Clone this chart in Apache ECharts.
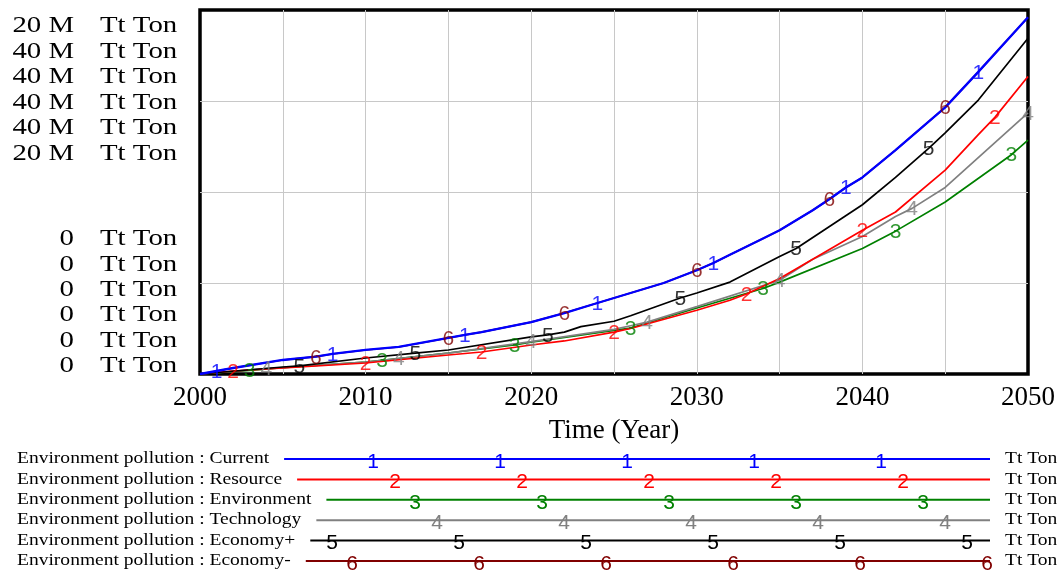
<!DOCTYPE html>
<html><head><meta charset="utf-8">
<script src="https://cdn.jsdelivr.net/npm/echarts@6/dist/echarts.min.js"></script>
<style>html,body{margin:0;padding:0;background:#fff}#c{width:1064px;height:571px}</style>
</head><body><div id="c"></div><script>
// ---------------- DATA ----------------
const seriesNames = ['Environment pollution : Current','Environment pollution : Resource','Environment pollution : Environment','Environment pollution : Technology','Environment pollution : Economy+','Environment pollution : Economy-'];
const markerDigits = ['1','2','3','4','5','6'];
const unitLabel = 'Tt Ton';
const yTopLabels = ['20 M','40 M','40 M','40 M','40 M','20 M'];
const yBottomLabels = ['0','0','0','0','0','0'];
const xTickLabels = [2000, 2010, 2020, 2030, 2040, 2050];

const currentYears = [2000,2001,2002,2005,2007,2008,2010,2012,2015,2016,2017,2020,2022,2024,2025,2026,2028,2030,2031,2032,2034,2035,2037,2038,2039,2040,2042,2045,2047,2050];
const currentVals  = [0,0.33,0.66,1.54,1.9,2.2,2.64,2.97,3.96,4.29,4.6,5.7,6.7,7.8,8.35,8.9,10.0,11.4,12.2,13.1,14.9,15.8,18.0,19.2,20.5,21.6,24.6,29.3,33.2,39.2];
const currentMarks = [2001,2008,2016,2024,2031,2039,2047];

const resourceYears = [2000,2002,2005,2010,2015,2017,2020,2022,2025,2026,2030,2032,2033,2035,2037,2040,2042,2045,2047,2048,2050];
const resourceVals  = [0,0.33,0.66,1.21,2.09,2.42,3.19,3.63,4.6,5.0,7.0,8.1,8.8,10.5,12.6,15.8,17.8,22.4,26.3,28.2,32.7];
const resourceMarks = [2002,2010,2017,2025,2033,2040,2048];

const environmentYears = [2000,2003,2005,2010,2011,2015,2019,2020,2025,2026,2030,2034,2035,2040,2042,2045,2049,2050];
const environmentVals  = [0,0.4,0.7,1.32,1.5,2.31,3.2,3.5,4.8,5.05,7.25,9.4,10.1,13.8,15.7,18.9,24.1,25.7];
const environmentMarks = [2003,2011,2019,2026,2034,2042,2049];

const technologyYears = [2000,2004,2005,2010,2012,2015,2020,2025,2026,2027,2030,2035,2037,2040,2042,2043,2045,2050];
const technologyVals  = [0,0.6,0.7,1.3,1.7,2.3,3.55,4.9,5.3,5.7,7.4,10.3,12.6,15.1,17.3,18.2,20.5,28.7];
const technologyMarks = [2004,2012,2020,2027,2035,2043,2050];

const economyPlusYears = [2000,2005,2006,2010,2013,2015,2020,2021,2022,2023,2025,2026,2029,2030,2032,2035,2036,2040,2042,2044,2045,2047,2050];
const economyPlusVals  = [0,0.77,0.9,1.76,2.3,2.64,4.07,4.3,4.6,5.2,5.8,6.4,8.35,8.9,10.1,12.9,13.8,18.6,21.6,24.8,26.5,30.1,36.9];
const economyPlusMarks = [2006,2013,2021,2029,2036,2044];

const economyMinusYears = [2000,2001,2002,2005,2007,2008,2010,2012,2015,2016,2017,2020,2022,2024,2025,2026,2028,2030,2031,2032,2034,2035,2037,2038,2039,2040,2042,2045,2047,2050];
const economyMinusVals  = [0,0.33,0.66,1.54,1.9,2.2,2.64,2.97,3.96,4.29,4.6,5.7,6.7,7.8,8.35,8.9,10.0,11.4,12.2,13.1,14.9,15.8,18.0,19.2,20.5,21.6,24.6,29.3,33.2,39.2];
const economyMinusMarks = [2007,2015,2022,2030,2038,2045];

// ---------------- STYLE / LAYOUT ----------------
const colors = ['#0000ff','#ff0000','#008000','#808080','#000000','#800000'];
const lineWidths = [2.3,1.7,1.7,1.7,1.7,1.7];
const zOrder = [6,4,3,3,5,2];
const allYears = [currentYears,resourceYears,environmentYears,technologyYears,economyPlusYears,economyMinusYears];
const allVals = [currentVals,resourceVals,environmentVals,technologyVals,economyPlusVals,economyMinusVals];
const allMarks = [currentMarks,resourceMarks,environmentMarks,technologyMarks,economyPlusMarks,economyMinusMarks];

const SERIF = '"Liberation Serif","Times New Roman",serif';
const SANS = '"Liberation Sans",Arial,sans-serif';

const series = [];
for (let i = 0; i < 6; i++) {
  const pts = allYears[i].map((y, k) => [y, allVals[i][k]]);
  series.push({
    name: seriesNames[i], type: 'line', data: pts, symbol: 'none', smooth: false,
    lineStyle: {color: colors[i], width: lineWidths[i]}, itemStyle: {color: colors[i]},
    z: zOrder[i], silent: true, animation: false
  });
  series.push({
    type: 'scatter', data: pts.filter(p => allMarks[i].includes(p[0])),
    symbol: 'circle', symbolSize: 1, itemStyle: {color: 'rgba(0,0,0,0)'},
    label: {show: true, position: 'inside', offset: [0, 1], formatter: markerDigits[i], color: colors[i],
            fontFamily: SANS, fontSize: 21},
    z: zOrder[i] + 10, silent: true, animation: false
  });
}

// graphic: left scale labels + bottom legend
const graphic = [];
const SX = 1.2;
for (let i = 0; i < 6; i++) {
  const yt = 26 + i * 25.5, yb = 239 + i * 25.4;
  graphic.push({type:'text', x:74, y:yt, scaleX:SX, style:{text:yTopLabels[i], font:'24px '+SERIF, fill:'#000', align:'right', verticalAlign:'middle'}});
  graphic.push({type:'text', x:100, y:yt, scaleX:SX, style:{text:unitLabel, font:'24px '+SERIF, fill:'#000', align:'left', verticalAlign:'middle'}});
  graphic.push({type:'text', x:74, y:yb, scaleX:SX, style:{text:yBottomLabels[i], font:'24px '+SERIF, fill:'#000', align:'right', verticalAlign:'middle'}});
  graphic.push({type:'text', x:100, y:yb, scaleX:SX, style:{text:unitLabel, font:'24px '+SERIF, fill:'#000', align:'left', verticalAlign:'middle'}});
}
const ctx = document.createElement('canvas').getContext('2d');
const LEG_FONT = '16px ' + SERIF;
const LSX = 1.22;
ctx.font = LEG_FONT;
const legStartDigit = [373,395,415,437,332,352];
const legCount = [5,5,5,5,6,6];
for (let i = 0; i < 6; i++) {
  const y = 459 + i * 20.4;
  const w = ctx.measureText(seriesNames[i]).width * LSX;
  graphic.push({type:'text', x:17, y:y, scaleX:LSX, style:{text:seriesNames[i], font:LEG_FONT, fill:'#000', align:'left', verticalAlign:'middle'}});
  graphic.push({type:'line', shape:{x1:17 + w + 15, y1:y, x2:990, y2:y}, style:{stroke:colors[i], lineWidth:2}});
  for (let k = 0; k < legCount[i]; k++) {
    graphic.push({type:'text', x:legStartDigit[i] + 127 * k, y:y + 3, style:{text:markerDigits[i], font:'21px ' + SANS, fill:colors[i], align:'center', verticalAlign:'middle'}});
  }
  graphic.push({type:'text', x:1005, y:y, scaleX:LSX, style:{text:unitLabel, font:LEG_FONT, fill:'#000', align:'left', verticalAlign:'middle'}});
}

const chart = echarts.init(document.getElementById('c'), null, {renderer:'canvas'});
chart.setOption({
  animation: false,
  backgroundColor: '#fff',
  grid: {left:200, right:36, top:10, bottom:197, show:true, borderColor:'#000', borderWidth:3.5, backgroundColor:'transparent'},
  xAxis: {
    type:'value', min:2000, max:2050, interval:5,
    name:'Time (Year)', nameLocation:'middle', nameGap:43,
    nameTextStyle:{fontFamily:SERIF, fontSize:27, color:'#000'},
    axisLine:{show:false}, axisTick:{show:false},
    axisLabel:{fontFamily:SERIF, fontSize:27, color:'#000', margin:10,
      formatter: v => xTickLabels.includes(v) ? String(v) : ''},
    splitLine:{show:true, showMinLine:false, showMaxLine:false, lineStyle:{color:'#c8c8c8', width:1}}
  },
  yAxis: {
    type:'value', min:0, max:40, interval:10,
    axisLine:{show:false}, axisTick:{show:false}, axisLabel:{show:false},
    splitLine:{show:true, showMinLine:false, showMaxLine:false, lineStyle:{color:'#c8c8c8', width:1}}
  },
  series: series,
  graphic: graphic
});
</script></body></html>
